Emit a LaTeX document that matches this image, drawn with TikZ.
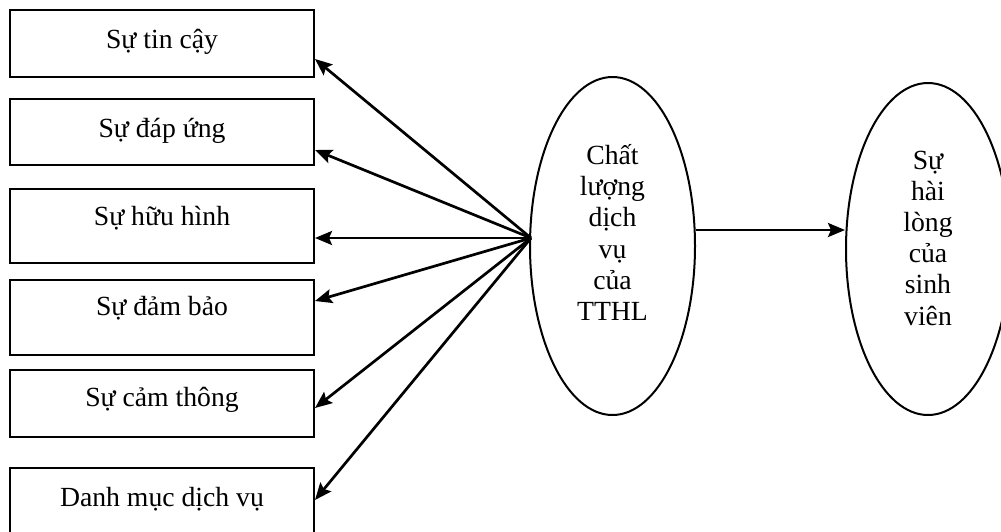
\documentclass[tikz,border=0pt]{standalone}
\usepackage{fontspec}
\setmainfont{Liberation Serif}
\usetikzlibrary{arrows.meta,shapes.geometric}
\tikzset{
  every node/.style={font=\fontsize{27.7pt}{31.2pt}\selectfont},
  box/.style={draw, line width=2pt, minimum width=304pt, anchor=north west, inner sep=0pt},
  oval/.style={draw, ellipse, line width=2pt, inner sep=0pt},
  arr/.style={line width=2.7pt, -{Stealth[length=17pt,width=14pt,inset=3pt]}},
}
\begin{document}
\begin{tikzpicture}[x=1pt,y=-1pt]
\useasboundingbox (0,0) rectangle (1001,531);
\node[box, minimum height=67pt, label={[anchor=base,yshift=-39pt]north:Sự tin cậy}] (b1) at (9,9) {};
\node[box, minimum height=66pt, label={[anchor=base,yshift=-39pt]north:Sự đáp ứng}] (b2) at (9,98) {};
\node[box, minimum height=74pt, label={[anchor=base,yshift=-37pt]north:Sự hữu hình}] (b3) at (9,188) {};
\node[box, minimum height=75pt, label={[anchor=base,yshift=-36pt]north:Sự đảm bảo}] (b4) at (9,279) {};
\node[box, minimum height=67pt, label={[anchor=base,yshift=-37pt]north:Sự cảm thông}] (b5) at (9,369) {};
\node[box, minimum height=80pt, label={[anchor=base,yshift=-39pt]north:Danh mục dịch vụ}] (b6) at (9,467) {};
\node[oval, minimum width=165pt, minimum height=338pt,
  label={[align=center,anchor=center,yshift=13.5pt]center:Chất\\lượng\\dịch\\vụ\\của\\TTHL}] (e1) at (612.5,246) {};
\node[oval, minimum width=164pt, minimum height=332pt,
  label={[align=center,anchor=center,yshift=11pt]center:Sự\\hài\\lòng\\của\\sinh\\viên}] (e2) at (928,249) {};
\coordinate (hub) at (531,238);
\draw[arr] (hub) -- (b1.east |- 0,59);
\draw[arr] (hub) -- (b2.east |- 0,150);
\draw[arr] (hub) -- (b3.east |- 0,238);
\draw[arr] (hub) -- (b4.east |- 0,301);
\draw[arr] (hub) -- (b5.east |- 0,408);
\draw[arr] (hub) -- (b6.east |- 0,500);
\draw[arr] (e1.east |- 0,230) -- (e2.west |- 0,230);
\end{tikzpicture}
\end{document}
